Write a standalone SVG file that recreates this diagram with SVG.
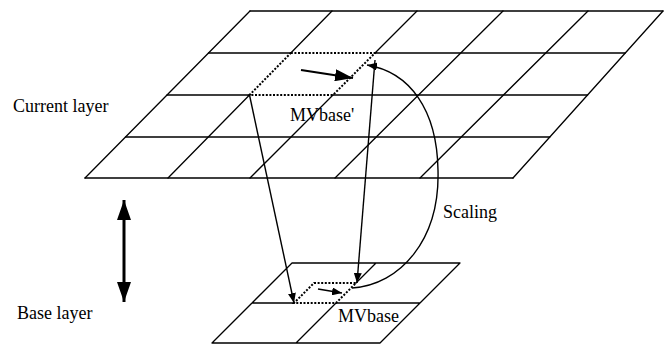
<svg xmlns="http://www.w3.org/2000/svg" width="672" height="346" viewBox="0 0 672 346">
<style>
.g{stroke:#000;stroke-width:1.3;fill:none;stroke-linecap:round}
.d{stroke:#000;stroke-width:2;fill:none;stroke-dasharray:2 1.6}
.c{stroke:#000;stroke-width:1.4;fill:none}
.t{font-family:'Liberation Serif','DejaVu Serif',serif;font-size:18px;fill:#000}
</style>
<defs>
<marker id="ah" viewBox="0 0 10 8" refX="10" refY="4" markerWidth="10" markerHeight="8" markerUnits="userSpaceOnUse" orient="auto"><path d="M0,0 L10,4 L0,8 Z" fill="#000"/></marker>
<marker id="big" viewBox="0 0 18 12" refX="18" refY="6" markerWidth="18" markerHeight="12" markerUnits="userSpaceOnUse" orient="auto"><path d="M0,0 L18,6 L0,12 Z" fill="#000"/></marker>
<marker id="dbl" viewBox="0 0 20 14" refX="20" refY="7" markerWidth="20" markerHeight="14" markerUnits="userSpaceOnUse" orient="auto-start-reverse"><path d="M0,0 L20,7 L0,14 Z" fill="#000"/></marker>
</defs>
<g id="current-layer">
<path class="g" d="M250,11 H663 M208.5,53 H290.8 M375,53 H625.3 M167,95 H249.5 M333,95 H587.6 M125.5,137 H549.8 M85,178 H513"/>
<path class="g" d="M250,11 L85,178 M332,11 L290.8,53 M249.5,95 L168,178 M417,11 L375,53 M333,95 L250,178 M503,11 L335,178 M588,11 L420,178 M663,11 L513,178"/>
<path class="d" d="M290.8,53 H375 L333,95 H249.5 Z"/>
<line x1="301" y1="70" x2="353" y2="78" stroke="#000" stroke-width="2.2" marker-end="url(#big)"/>
<text class="t" x="290" y="121">MVbase'</text>
<text class="t" x="13" y="112">Current layer</text>
</g>
<g id="base-layer">
<path class="g" d="M292,263 H460 M252,303 H294 M336,303 H420 M212,343 H380 M292,263 L212,343 M376,263 L356,283 M336,303 L296,343 M460,263 L380,343"/>
<path class="d" d="M314,283 H356 L336,303 H294 Z"/>
<line x1="318" y1="289" x2="342" y2="293" stroke="#000" stroke-width="1.4" marker-end="url(#ah)"/>
<text class="t" x="338" y="322">MVbase</text>
<text class="t" x="17" y="319">Base layer</text>
</g>
<g id="connectors">
<line class="c" x1="249.5" y1="95" x2="294" y2="303" marker-end="url(#ah)"/>
<line class="c" x1="375" y1="60" x2="357" y2="283" marker-end="url(#ah)"/>
<path class="c" d="M352,288 C400,285 440,240 438,170 C437,110 410,72 367,65" marker-end="url(#ah)"/>
<line x1="124" y1="200" x2="124" y2="302" stroke="#000" stroke-width="3" marker-start="url(#dbl)" marker-end="url(#dbl)"/>
</g>
<text class="t" x="443" y="218">Scaling</text>
</svg>
